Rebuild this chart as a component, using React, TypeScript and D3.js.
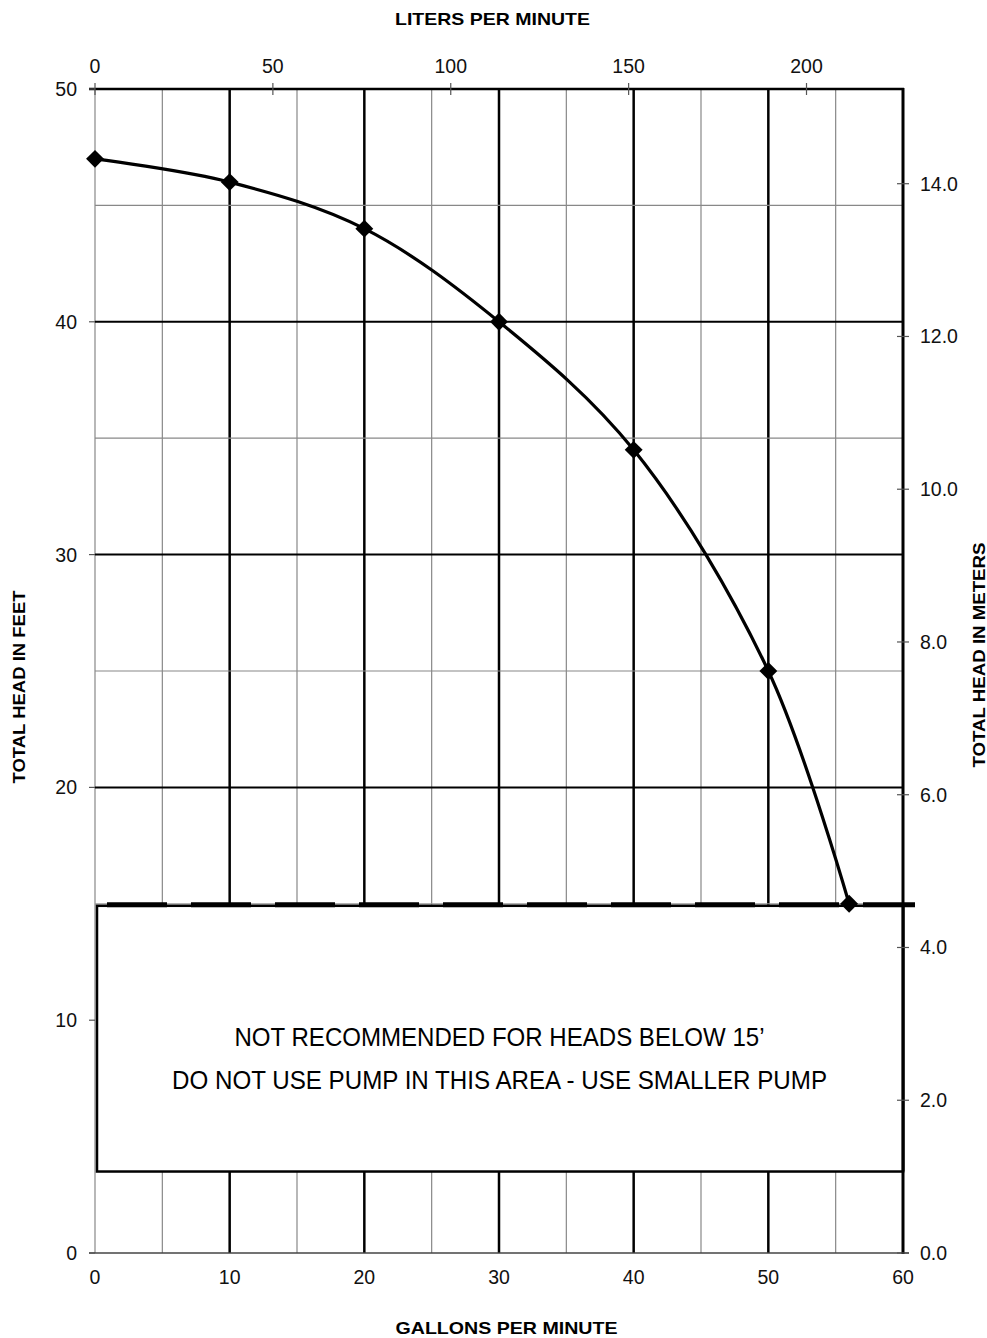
import React from "react";
import * as d3 from "d3";

const gpm = [0, 10, 20, 30, 40, 50, 56];
const headFt = [47, 46, 44, 40, 34.5, 25, 15];
const gpmTicks = [0, 10, 20, 30, 40, 50, 60];
const ftTicks = [0, 10, 20, 30, 40, 50];
const lpmTicks = [0, 50, 100, 150, 200];
const mTicks = [0, 2, 4, 6, 8, 10, 12, 14];
const boxLines = ["NOT RECOMMENDED FOR HEADS BELOW 15\u2019", "DO NOT USE PUMP IN THIS AREA - USE SMALLER PUMP"];
const boxLineLengths = [530, 655];
const minHead = 15;
const boxBottomFt = 3.5;

const W = 987, H = 1338;
const L = 95, R = 903, T = 89, B = 1253;
const FONT = "'Liberation Sans', Arial, sans-serif";
const TICK_FS = 19.5;

export default function App() {
  const x = d3.scaleLinear().domain([0, 60]).range([L, R]);
  const y = d3.scaleLinear().domain([0, 50]).range([B, T]);
  const xL = d3.scaleLinear().domain([0, 60 * 3.78541]).range([L, R]);
  const yM = d3.scaleLinear().domain([0, 50 * 0.3048]).range([B, T]);

  const pts = gpm.map((g, i) => [x(g), y(headFt[i])] as [number, number]);
  const line = d3.line().curve(d3.curveCatmullRom.alpha(0.5))(pts) || "";
  const diamond = d3.symbol().type(d3.symbolSquare).size(160)() || "";

  const vGrid = d3.range(5, 60, 5);
  const hGrid = d3.range(20, 50, 5);

  return (
    <svg width={W} height={H} style={{ position: "absolute", left: 0, top: 0, background: "#fff" }} fontFamily={FONT}>
      <rect x={0} y={0} width={W} height={H} fill="#fff" />
      {/* vertical grid */}
      <line x1={L} x2={L} y1={T} y2={B} stroke="#888" strokeWidth={1.2} />
      {vGrid.map((g) => (
        <line key={"v" + g} x1={x(g)} x2={x(g)} y1={T} y2={B}
          stroke={g % 10 === 0 ? "#000" : "#888"} strokeWidth={g % 10 === 0 ? 2.5 : 1.2} />
      ))}
      {/* horizontal grid */}
      {hGrid.map((h) => (
        <line key={"h" + h} x1={L} x2={R} y1={y(h)} y2={y(h)}
          stroke={h % 10 === 0 ? "#000" : "#888"} strokeWidth={h % 10 === 0 ? 2 : 1.2} />
      ))}
      <line x1={L} x2={R} y1={y(minHead)} y2={y(minHead)} stroke="#999" strokeWidth={1.2} />
      {/* bottom axis line */}
      <line x1={L - 6} x2={R + 6} y1={B} y2={B} stroke="#444" strokeWidth={1.5} />
      {/* top border */}
      <line x1={L - 6} x2={R + 1} y1={T} y2={T} stroke="#000" strokeWidth={2.5} />
      {/* right border */}
      <line x1={R} x2={R} y1={T - 1} y2={B + 1} stroke="#000" strokeWidth={3} />

      {/* not-recommended box */}
      <rect x={x(0) + 2} y={y(minHead) + 2} width={R - x(0) - 2} height={y(boxBottomFt) - y(minHead) - 2}
        fill="#fff" stroke="#000" strokeWidth={2.5} />
      <line x1={R} x2={R} y1={y(minHead)} y2={y(boxBottomFt)} stroke="#000" strokeWidth={3} />
      <line x1={107} x2={915} y1={y(minHead) + 1} y2={y(minHead) + 1} stroke="#000" strokeWidth={5} strokeDasharray="60 24" />
      {boxLines.map((t, i) => (
        <text key={t} x={499.5} y={1046 + i * 43} textAnchor="middle" fontSize={26} fill="#000"
          textLength={boxLineLengths[i]} lengthAdjust="spacingAndGlyphs">{t}</text>
      ))}

      {/* curve */}
      <path d={line} fill="none" stroke="#000" strokeWidth={3.2} />
      {pts.map((p, i) => (
        <path key={"d" + i} d={diamond} transform={`translate(${p[0]},${p[1]}) rotate(45)`} fill="#000" />
      ))}

      {/* left axis */}
      {ftTicks.map((t) => (
        <g key={"lf" + t}>
          <line x1={L - 6} x2={L} y1={y(t)} y2={y(t)} stroke="#555" strokeWidth={1.2} />
          <text x={77} y={y(t) + 7} textAnchor="end" fontSize={TICK_FS} fill="#111">{t}</text>
        </g>
      ))}
      {/* bottom axis labels */}
      {gpmTicks.map((t) => (
        <text key={"b" + t} x={x(t)} y={1284} textAnchor="middle" fontSize={TICK_FS} fill="#111">{t}</text>
      ))}
      {/* top axis (liters) */}
      {lpmTicks.map((t) => (
        <g key={"t" + t}>
          <line x1={xL(t)} x2={xL(t)} y1={T - 6} y2={T + 6} stroke="#555" strokeWidth={1.2} />
          <text x={xL(t)} y={73} textAnchor="middle" fontSize={TICK_FS} fill="#111">{t}</text>
        </g>
      ))}
      {/* right axis (meters) */}
      {mTicks.map((t) => (
        <g key={"r" + t}>
          <line x1={R - 6} x2={R + 6} y1={yM(t)} y2={yM(t)} stroke="#555" strokeWidth={1.2} />
          <text x={920} y={yM(t) + 7} textAnchor="start" fontSize={TICK_FS} fill="#111">{t.toFixed(1)}</text>
        </g>
      ))}

      {/* axis titles */}
      <text x={492.5} y={25} textAnchor="middle" fontSize={17} fontWeight="bold"
        textLength={195} lengthAdjust="spacingAndGlyphs">LITERS PER MINUTE</text>
      <text x={506.5} y={1334} textAnchor="middle" fontSize={17} fontWeight="bold"
        textLength={222} lengthAdjust="spacingAndGlyphs">GALLONS PER MINUTE</text>
      <text transform="translate(25,687) rotate(-90)" textAnchor="middle" fontSize={16} fontWeight="bold"
        textLength={193} lengthAdjust="spacingAndGlyphs">TOTAL HEAD IN FEET</text>
      <text transform="translate(985,655) rotate(-90)" textAnchor="middle" fontSize={16.5} fontWeight="bold"
        textLength={225} lengthAdjust="spacingAndGlyphs">TOTAL HEAD IN METERS</text>
    </svg>
  );
}
